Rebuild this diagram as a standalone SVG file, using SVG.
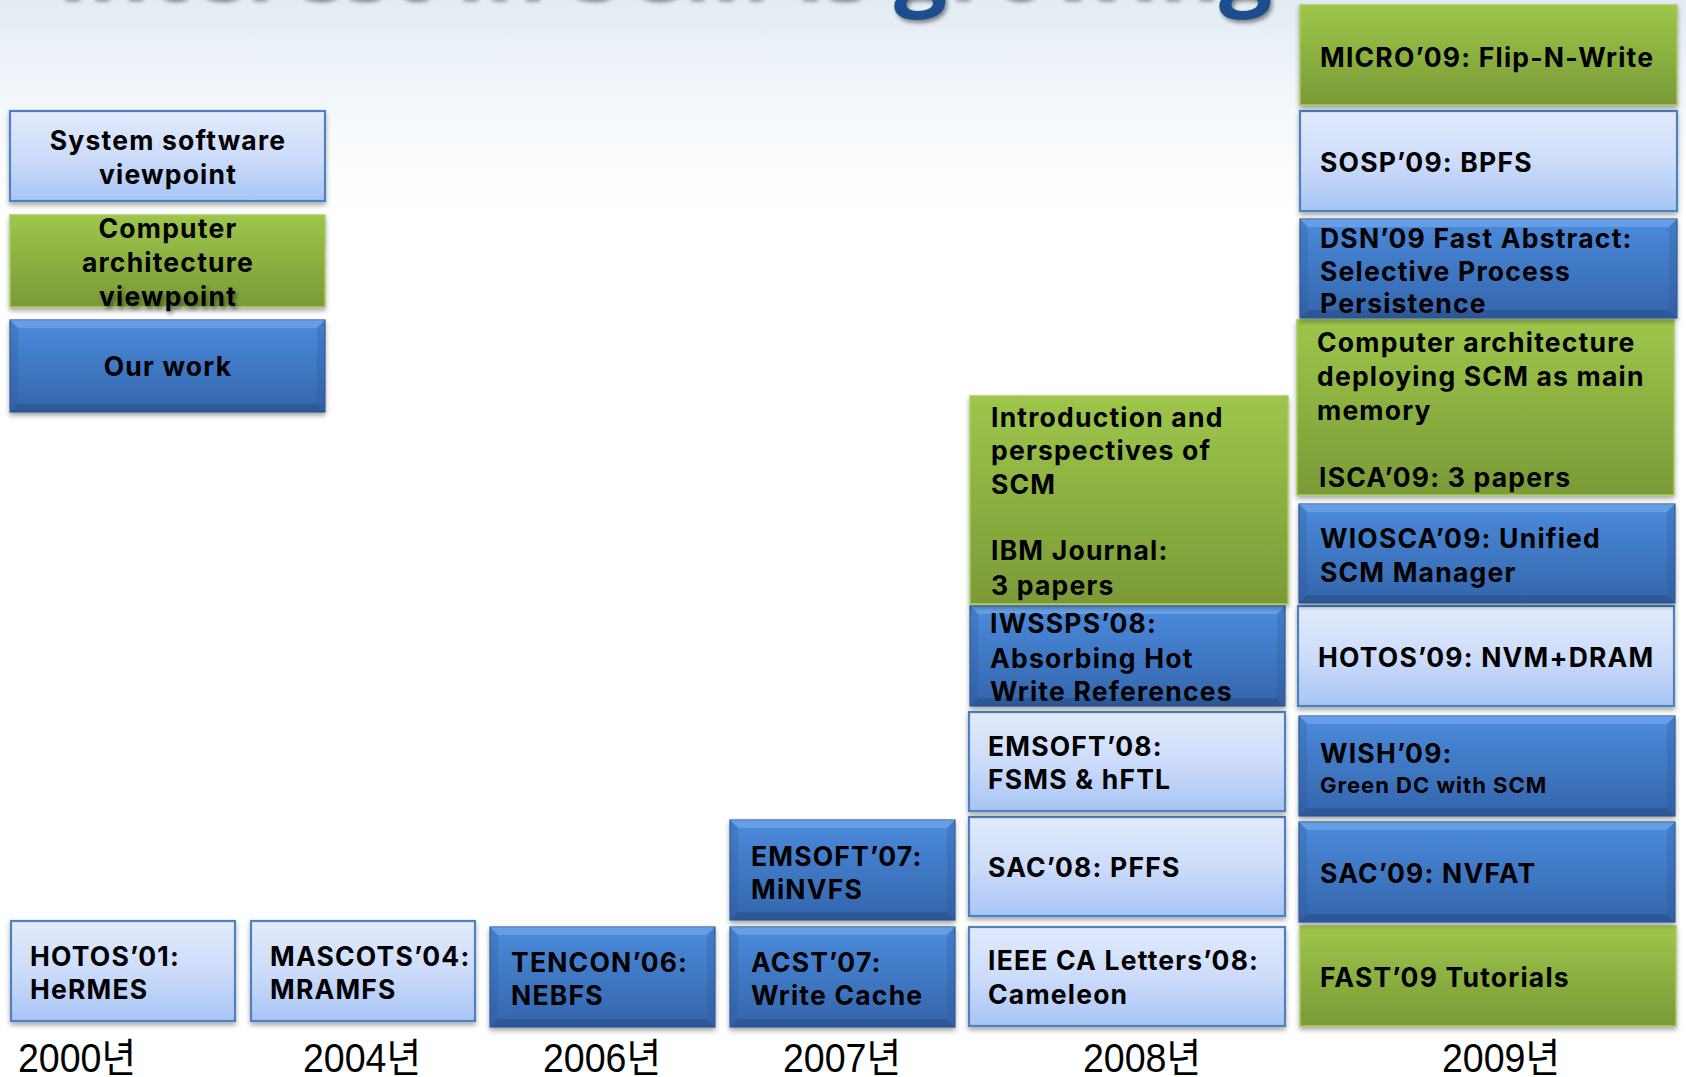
<svg xmlns="http://www.w3.org/2000/svg" width="1686" height="1077" viewBox="0 0 1686 1077">
<defs>
<linearGradient id="bg" x1="0" y1="0" x2="0" y2="1">
<stop offset="0" stop-color="#e3ecf4"/>
<stop offset="0.12" stop-color="#f7fafd"/>
<stop offset="0.2" stop-color="#ffffff"/>
</linearGradient>
<linearGradient id="gLight" x1="0" y1="0" x2="0" y2="1">
<stop offset="0" stop-color="#e2ebfc"/>
<stop offset="0.5" stop-color="#cddcfa"/>
<stop offset="1" stop-color="#a8c5f6"/>
</linearGradient>
<linearGradient id="gGreen" x1="0" y1="0" x2="0" y2="1">
<stop offset="0" stop-color="#9ec64b"/>
<stop offset="1" stop-color="#7a9a37"/>
</linearGradient>
<linearGradient id="gBlue" x1="0" y1="0" x2="0" y2="1">
<stop offset="0" stop-color="#4b8bdc"/>
<stop offset="1" stop-color="#3465ac"/>
</linearGradient>
<filter id="sh" x="-5%" y="-10%" width="110%" height="125%">
<feDropShadow dx="0" dy="3" stdDeviation="2.5" flood-color="#000" flood-opacity="0.35"/>
</filter>
<filter id="tsh" x="-5%" y="-20%" width="110%" height="140%">
<feDropShadow dx="2" dy="3" stdDeviation="2" flood-color="#000" flood-opacity="0.45"/>
</filter>
<style>
.light{fill:url(#gLight);stroke:#4f81bd;stroke-width:2.2}
.green{fill:url(#gGreen);stroke:#a9cc62;stroke-width:1.5}
.blue{fill:url(#gBlue);stroke:#2f5c96;stroke-width:1.2}
.bt{fill:#7eb1f0;opacity:0.55}
.bb{fill:#22487d;opacity:0.45}
.bs{fill:#2a5590;opacity:0.25}
.t{font-family:Inter,"Open Sans","Liberation Sans",sans-serif;font-weight:700;font-size:26.5px;letter-spacing:1.2px;fill:#000}
.tc{text-anchor:middle}
.yr{font-family:"Liberation Sans","Noto Sans CJK KR",sans-serif;font-size:40px;fill:#000}
.title{font-family:"Open Sans","Liberation Sans",sans-serif;font-weight:700;font-size:94px}
</style>
</defs>
<rect x="0" y="0" width="1686" height="1077" fill="url(#bg)"/>
<text class="title" x="1272" y="-2" text-anchor="end" filter="url(#tsh)"><tspan fill="#3d3d3d">Interest in SCM is </tspan><tspan fill="#1f4e8c">growing</tspan></text>

<g id="connectors">
<line x1="0" y1="1029" x2="1686" y2="1029" stroke="#7f7f7f" stroke-width="4" filter="url(#sh)"/>
</g>

<g id="legend-system">
<rect class="light" x="10" y="111" width="315" height="90" filter="url(#sh)"/>
<text class="t tc" x="168" y="150">System software</text>
<text class="t tc" x="168" y="184">viewpoint</text>
</g>
<g id="legend-arch">
<rect class="green" x="10" y="215" width="315" height="92" filter="url(#sh)"/>
<text class="t tc" x="168" y="238">Computer</text>
<text class="t tc" x="168" y="272">architecture</text>
<text class="t tc" x="168" y="306" filter="url(#tsh)">viewpoint</text>
</g>
<g id="legend-ours">
<rect class="blue" x="10" y="320" width="315" height="92" filter="url(#sh)"/>
<polygon class="bt" points="10,320 325,320 317,328 18,328"/>
<polygon class="bb" points="10,412 325,412 317,404 18,404"/>
<polygon class="bs" points="10,320 18,328 18,404 10,412"/>
<polygon class="bs" points="325,320 317,328 317,404 325,412"/>
<text class="t tc" x="168" y="376">Our work</text>
</g>

<g id="hotos01">
<rect class="light" x="11" y="921" width="224" height="100" filter="url(#sh)"/>
<text class="t" x="30" y="966">HOTOS’01:</text>
<text class="t" x="30" y="999">HeRMES</text>
</g>
<g id="mascots04">
<rect class="light" x="251" y="921" width="224" height="100" filter="url(#sh)"/>
<text class="t" x="270" y="966">MASCOTS’04:</text>
<text class="t" x="270" y="999">MRAMFS</text>
</g>
<g id="tencon06">
<rect class="blue" x="490" y="927" width="225" height="100" filter="url(#sh)"/>
<polygon class="bt" points="490,927 715,927 707,935 498,935"/>
<polygon class="bb" points="490,1027 715,1027 707,1019 498,1019"/>
<polygon class="bs" points="490,927 498,935 498,1019 490,1027"/>
<polygon class="bs" points="715,927 707,935 707,1019 715,1027"/>
<text class="t" x="511" y="972">TENCON’06:</text>
<text class="t" x="511" y="1005">NEBFS</text>
</g>
<g id="acst07">
<rect class="blue" x="730" y="927" width="225" height="100" filter="url(#sh)"/>
<polygon class="bt" points="730,927 955,927 947,935 738,935"/>
<polygon class="bb" points="730,1027 955,1027 947,1019 738,1019"/>
<polygon class="bs" points="730,927 738,935 738,1019 730,1027"/>
<polygon class="bs" points="955,927 947,935 947,1019 955,1027"/>
<text class="t" x="751" y="972">ACST’07:</text>
<text class="t" x="751" y="1005">Write Cache</text>
</g>
<g id="emsoft07">
<rect class="blue" x="730" y="820" width="225" height="100" filter="url(#sh)"/>
<polygon class="bt" points="730,820 955,820 947,828 738,828"/>
<polygon class="bb" points="730,920 955,920 947,912 738,912"/>
<polygon class="bs" points="730,820 738,828 738,912 730,920"/>
<polygon class="bs" points="955,820 947,828 947,912 955,920"/>
<text class="t" x="751" y="866">EMSOFT’07:</text>
<text class="t" x="751" y="899">MiNVFS</text>
</g>
<g id="ieee08">
<rect class="light" x="969" y="927" width="316" height="99" filter="url(#sh)"/>
<text class="t" x="988" y="970">IEEE CA Letters’08:</text>
<text class="t" x="988" y="1004">Cameleon</text>
</g>
<g id="sac08">
<rect class="light" x="969" y="817" width="316" height="99" filter="url(#sh)"/>
<text class="t" x="988" y="877">SAC’08: PFFS</text>
</g>
<g id="emsoft08">
<rect class="light" x="969" y="712" width="316" height="99" filter="url(#sh)"/>
<text class="t" x="988" y="756">EMSOFT’08:</text>
<text class="t" x="988" y="789">FSMS &amp; hFTL</text>
</g>
<g id="iwssps08">
<rect class="blue" x="970" y="606" width="315" height="100" filter="url(#sh)"/>
<polygon class="bt" points="970,606 1285,606 1277,614 978,614"/>
<polygon class="bb" points="970,706 1285,706 1277,698 978,698"/>
<polygon class="bs" points="970,606 978,614 978,698 970,706"/>
<polygon class="bs" points="1285,606 1277,614 1277,698 1285,706"/>
<text class="t" x="990" y="633">IWSSPS’08:</text>
<text class="t" x="990" y="668">Absorbing Hot</text>
<text class="t" x="990" y="701">Write References</text>
</g>
<g id="ibm08">
<rect class="green" x="970" y="396" width="318" height="208" filter="url(#sh)"/>
<text class="t" x="991" y="427">Introduction and</text>
<text class="t" x="991" y="460">perspectives of</text>
<text class="t" x="991" y="494">SCM</text>
<text class="t" x="991" y="560">IBM Journal:</text>
<text class="t" x="991" y="595">3 papers</text>
</g>

<g id="fast09">
<rect class="green" x="1300" y="926" width="376" height="100" filter="url(#sh)"/>
<text class="t" x="1320" y="987">FAST’09 Tutorials</text>
</g>
<g id="sac09">
<rect class="blue" x="1299" y="822" width="376" height="100" filter="url(#sh)"/>
<polygon class="bt" points="1299,822 1675,822 1667,830 1307,830"/>
<polygon class="bb" points="1299,922 1675,922 1667,914 1307,914"/>
<polygon class="bs" points="1299,822 1307,830 1307,914 1299,922"/>
<polygon class="bs" points="1675,822 1667,830 1667,914 1675,922"/>
<text class="t" x="1320" y="883">SAC’09: NVFAT</text>
</g>
<g id="wish09">
<rect class="blue" x="1299" y="716" width="376" height="100" filter="url(#sh)"/>
<polygon class="bt" points="1299,716 1675,716 1667,724 1307,724"/>
<polygon class="bb" points="1299,816 1675,816 1667,808 1307,808"/>
<polygon class="bs" points="1299,716 1307,724 1307,808 1299,816"/>
<polygon class="bs" points="1675,716 1667,724 1667,808 1675,816"/>
<text class="t" x="1320" y="763">WISH’09:</text>
<text class="t" x="1320" y="793" style="font-size:22px;letter-spacing:1px">Green DC with SCM</text>
</g>
<g id="hotos09">
<rect class="light" x="1298" y="606" width="376" height="100" filter="url(#sh)"/>
<text class="t" x="1318" y="667">HOTOS’09: NVM+DRAM</text>
</g>
<g id="wiosca09">
<rect class="blue" x="1299" y="504" width="376" height="99" filter="url(#sh)"/>
<polygon class="bt" points="1299,504 1675,504 1667,512 1307,512"/>
<polygon class="bb" points="1299,603 1675,603 1667,595 1307,595"/>
<polygon class="bs" points="1299,504 1307,512 1307,595 1299,603"/>
<polygon class="bs" points="1675,504 1667,512 1667,595 1675,603"/>
<text class="t" x="1320" y="548">WIOSCA’09: Unified</text>
<text class="t" x="1320" y="582">SCM Manager</text>
</g>
<g id="isca09">
<rect class="green" x="1297" y="320" width="377" height="175" filter="url(#sh)"/>
<text class="t" x="1317" y="352">Computer architecture</text>
<text class="t" x="1317" y="386">deploying SCM as main</text>
<text class="t" x="1317" y="420">memory</text>
<text class="t" x="1319" y="487">ISCA’09: 3 papers</text>
</g>
<g id="dsn09">
<rect class="blue" x="1300" y="219" width="377" height="99" filter="url(#sh)"/>
<polygon class="bt" points="1300,219 1677,219 1669,227 1308,227"/>
<polygon class="bb" points="1300,318 1677,318 1669,310 1308,310"/>
<polygon class="bs" points="1300,219 1308,227 1308,310 1300,318"/>
<polygon class="bs" points="1677,219 1669,227 1669,310 1677,318"/>
<text class="t" x="1320" y="248">DSN’09 Fast Abstract:</text>
<text class="t" x="1320" y="281">Selective Process</text>
<text class="t" x="1320" y="313">Persistence</text>
</g>
<g id="sosp09">
<rect class="light" x="1300" y="111" width="377" height="100" filter="url(#sh)"/>
<text class="t" x="1320" y="172">SOSP’09: BPFS</text>
</g>
<g id="micro09">
<rect class="green" x="1300" y="5" width="377" height="100" filter="url(#sh)"/>
<text class="t" x="1320" y="67">MICRO’09: Flip-N-Write</text>
</g>

<g id="years">
<text class="yr" x="18" y="1072" textLength="118" lengthAdjust="spacingAndGlyphs">2000년</text>
<text class="yr" x="303" y="1072" textLength="118" lengthAdjust="spacingAndGlyphs">2004년</text>
<text class="yr" x="543" y="1072" textLength="118" lengthAdjust="spacingAndGlyphs">2006년</text>
<text class="yr" x="783" y="1072" textLength="118" lengthAdjust="spacingAndGlyphs">2007년</text>
<text class="yr" x="1083" y="1072" textLength="118" lengthAdjust="spacingAndGlyphs">2008년</text>
<text class="yr" x="1442" y="1072" textLength="118" lengthAdjust="spacingAndGlyphs">2009년</text>
</g>
</svg>
